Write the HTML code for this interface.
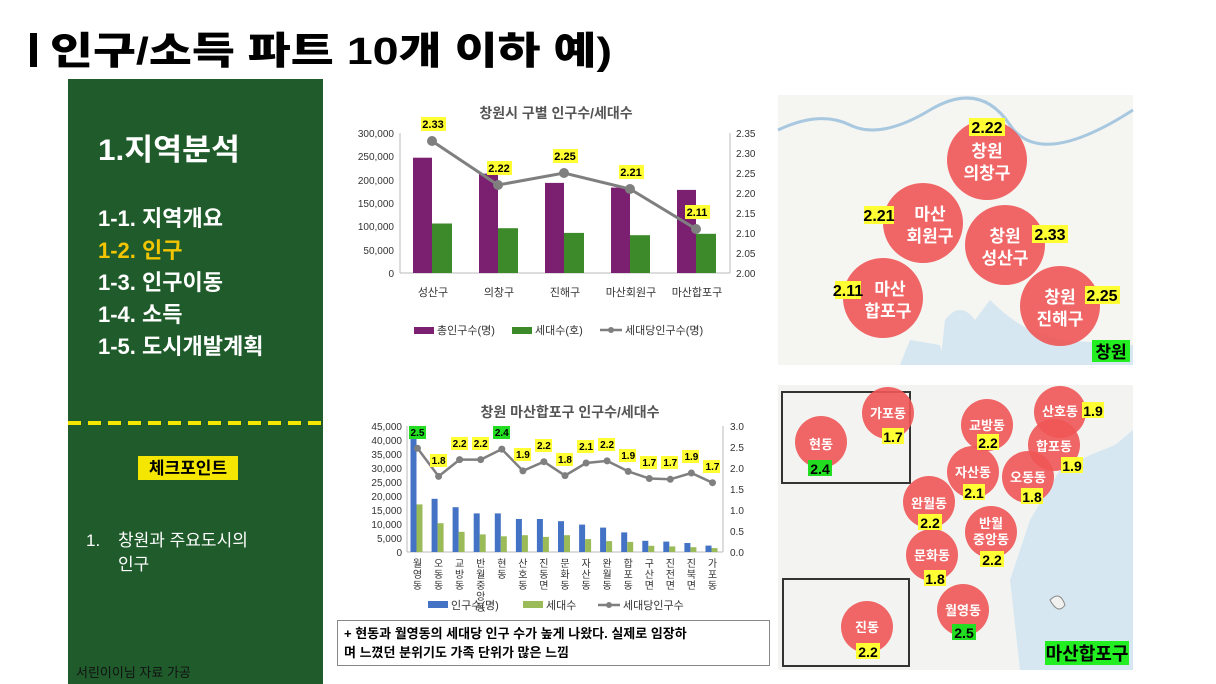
<!DOCTYPE html>
<html><head><meta charset="utf-8"><style>
body{margin:0;width:1216px;height:684px;overflow:hidden;background:#fff;font-family:"Liberation Sans","Noto Sans CJK KR",sans-serif;}
svg{position:absolute;left:0;top:0}
text{font-family:"Liberation Sans","Noto Sans CJK KR",sans-serif}
</style></head><body>
<svg width="1216" height="684" viewBox="0 0 1216 684">
<!-- title -->
<rect x="30" y="33" width="7" height="34" fill="#000"/>
<text x="50" y="64" font-size="38" font-weight="900" fill="#000" textLength="562" lengthAdjust="spacingAndGlyphs">인구/소득 파트  10개 이하 예)</text>
<!-- left panel -->
<rect x="68" y="79" width="255" height="605" fill="#1f5b2b"/>
<text x="98" y="160" font-size="30" font-weight="bold" fill="#fff" textLength="142" lengthAdjust="spacingAndGlyphs">1.지역분석</text>
<g font-size="22" font-weight="bold" fill="#fff">
<text x="98" y="226">1-1. 지역개요</text>
<text x="98" y="258" fill="#f2c500">1-2. 인구</text>
<text x="98" y="290">1-3. 인구이동</text>
<text x="98" y="322">1-4. 소득</text>
<text x="98" y="354">1-5. 도시개발계획</text>
</g>
<line x1="68" y1="423" x2="323" y2="423" stroke="#f5e600" stroke-width="4" stroke-dasharray="13,7"/>
<rect x="138" y="456" width="100" height="24" fill="#f5e600"/>
<text x="188" y="474" font-size="17" font-weight="bold" fill="#000" text-anchor="middle">체크포인트</text>
<text x="86" y="546" font-size="17" fill="#fff">1.</text>
<text x="118" y="546" font-size="17" fill="#fff">창원과 주요도시의</text>
<text x="118" y="570" font-size="17" fill="#fff">인구</text>
<text x="76" y="677" font-size="13" fill="#111">서린이이님 자료 가공</text>

<!-- top chart -->
<text x="556" y="118" font-size="14" font-weight="bold" fill="#555" text-anchor="middle">창원시 구별  인구수/세대수</text>
<g font-size="10" fill="#333" text-anchor="end">
<text x="394" y="137">300,000</text><text x="394" y="160">250,000</text><text x="394" y="184">200,000</text><text x="394" y="207">150,000</text><text x="394" y="230">100,000</text><text x="394" y="254">50,000</text><text x="394" y="277">0</text>
</g>
<g font-size="10" fill="#333">
<text x="736" y="137">2.35</text><text x="736" y="157">2.30</text><text x="736" y="177">2.25</text><text x="736" y="197">2.20</text><text x="736" y="217">2.15</text><text x="736" y="237">2.10</text><text x="736" y="257">2.05</text><text x="736" y="277">2.00</text>
</g>
<line x1="400" y1="133" x2="400" y2="273" stroke="#bbb"/>
<line x1="730" y1="133" x2="730" y2="273" stroke="#bbb"/>
<line x1="400" y1="273" x2="730" y2="273" stroke="#bbb"/>
<g fill="#7b2070">
<rect x="413" y="157.7" width="19" height="115.3"/><rect x="479" y="173.6" width="19" height="99.4"/><rect x="545" y="182.9" width="19" height="90.1"/><rect x="611" y="187.6" width="19" height="85.4"/><rect x="677" y="189.9" width="19" height="83.1"/>
</g>
<g fill="#3d8a2a">
<rect x="432" y="223.5" width="20" height="49.5"/><rect x="498" y="228.2" width="20" height="44.8"/><rect x="564" y="232.9" width="20" height="40.1"/><rect x="630" y="235.2" width="20" height="37.8"/><rect x="696" y="233.8" width="20" height="39.2"/>
</g>
<polyline points="432,141 498,185 564,173 630,189 696,229" fill="none" stroke="#7f7f7f" stroke-width="3"/>
<g fill="#7f7f7f"><circle cx="432" cy="141" r="5"/><circle cx="498" cy="185" r="5"/><circle cx="564" cy="173" r="5"/><circle cx="630" cy="189" r="5"/><circle cx="696" cy="229" r="5"/></g>
<g fill="#ffff33"><rect x="421" y="117" width="25" height="14"/><rect x="487" y="161" width="25" height="14"/><rect x="553" y="149" width="25" height="14"/><rect x="619" y="165" width="25" height="14"/><rect x="685" y="205" width="25" height="14"/></g>
<g font-size="11" font-weight="bold" fill="#000" text-anchor="middle">
<text x="433" y="128">2.33</text><text x="499" y="172">2.22</text><text x="565" y="160">2.25</text><text x="631" y="176">2.21</text><text x="697" y="216">2.11</text>
</g>
<g font-size="11" fill="#333" text-anchor="middle">
<text x="433" y="296">성산구</text><text x="499" y="296">의창구</text><text x="565" y="296">진해구</text><text x="631" y="296">마산회원구</text><text x="697" y="296">마산합포구</text>
</g>
<rect x="414" y="327" width="20" height="7" fill="#7b2070"/><text x="437" y="334" font-size="11" fill="#333">총인구수(명)</text>
<rect x="512" y="327" width="20" height="7" fill="#3d8a2a"/><text x="535" y="334" font-size="11" fill="#333">세대수(호)</text>
<line x1="600" y1="330" x2="622" y2="330" stroke="#7f7f7f" stroke-width="2.5"/><circle cx="611" cy="330" r="3" fill="#7f7f7f"/><text x="625" y="334" font-size="11" fill="#333">세대당인구수(명)</text>

<!-- bottom chart -->
<text x="570" y="417" font-size="14" font-weight="bold" fill="#555" text-anchor="middle">창원 마산합포구 인구수/세대수</text>
<g font-size="10" fill="#333" text-anchor="end">
<text x="402" y="430">45,000</text><text x="402" y="444">40,000</text><text x="402" y="458">35,000</text><text x="402" y="472">30,000</text><text x="402" y="486">25,000</text><text x="402" y="500">20,000</text><text x="402" y="514">15,000</text><text x="402" y="528">10,000</text><text x="402" y="542">5,000</text><text x="402" y="556">0</text>
</g>
<g font-size="10" fill="#333">
<text x="730" y="430">3.0</text><text x="730" y="451">2.5</text><text x="730" y="472">2.0</text><text x="730" y="493">1.5</text><text x="730" y="514">1.0</text><text x="730" y="535">0.5</text><text x="730" y="556">0.0</text>
</g>
<line x1="407" y1="426" x2="407" y2="552" stroke="#bbb"/>
<line x1="723" y1="426" x2="723" y2="552" stroke="#bbb"/>
<line x1="407" y1="552" x2="723" y2="552" stroke="#bbb"/>
<g fill="#4472c4">
<rect x="410.5" y="437.2" width="6" height="114.8"/><rect x="431.6" y="498.8" width="6" height="53.2"/><rect x="452.6" y="507.2" width="6" height="44.8"/><rect x="473.7" y="513.4" width="6" height="38.6"/><rect x="494.8" y="513.4" width="6" height="38.6"/><rect x="515.9" y="519" width="6" height="33"/><rect x="536.9" y="519" width="6" height="33"/><rect x="558" y="521.2" width="6" height="30.8"/><rect x="579.1" y="524.6" width="6" height="27.4"/><rect x="600.1" y="527.6" width="6" height="24.4"/><rect x="621.2" y="532.4" width="6" height="19.6"/><rect x="642.3" y="540.8" width="6" height="11.2"/><rect x="663.3" y="541.6" width="6" height="10.4"/><rect x="684.4" y="543" width="6" height="9"/><rect x="705.5" y="545.6" width="6" height="6.4"/>
</g>
<g fill="#9bbb59">
<rect x="416.5" y="504.4" width="6" height="47.6"/><rect x="437.6" y="523.2" width="6" height="28.8"/><rect x="458.6" y="531.8" width="6" height="20.2"/><rect x="479.7" y="534.4" width="6" height="17.6"/><rect x="500.8" y="536.3" width="6" height="15.7"/><rect x="521.9" y="535.2" width="6" height="16.8"/><rect x="542.9" y="536.9" width="6" height="15.1"/><rect x="564" y="535.2" width="6" height="16.8"/><rect x="585.1" y="539.1" width="6" height="12.9"/><rect x="606.1" y="541.1" width="6" height="10.9"/><rect x="627.2" y="541.9" width="6" height="10.1"/><rect x="648.3" y="545.8" width="6" height="6.2"/><rect x="669.3" y="546.4" width="6" height="5.6"/><rect x="690.4" y="547.2" width="6" height="4.8"/><rect x="711.5" y="548.1" width="6" height="3.9"/>
</g>
<polyline points="417.5,448.3 438.6,476.4 459.6,459.6 480.7,459.6 501.8,449.1 522.9,470.9 543.9,461.7 565,475.6 586.1,463 607.1,460.9 628.2,471.4 649.3,478.5 670.3,479.3 691.4,473 712.5,482.7" fill="none" stroke="#7f7f7f" stroke-width="2.5"/>
<g fill="#7f7f7f"><circle cx="417.5" cy="448.3" r="3.5"/><circle cx="438.6" cy="476.4" r="3.5"/><circle cx="459.6" cy="459.6" r="3.5"/><circle cx="480.7" cy="459.6" r="3.5"/><circle cx="501.8" cy="449.1" r="3.5"/><circle cx="522.9" cy="470.9" r="3.5"/><circle cx="543.9" cy="461.7" r="3.5"/><circle cx="565" cy="475.6" r="3.5"/><circle cx="586.1" cy="463" r="3.5"/><circle cx="607.1" cy="460.9" r="3.5"/><circle cx="628.2" cy="471.4" r="3.5"/><circle cx="649.3" cy="478.5" r="3.5"/><circle cx="670.3" cy="479.3" r="3.5"/><circle cx="691.4" cy="473" r="3.5"/><circle cx="712.5" cy="482.7" r="3.5"/></g>
<g>
<rect x="409" y="426" width="17" height="13" fill="#22dd22"/><rect x="430" y="454" width="17" height="13" fill="#ffff33"/><rect x="451" y="437" width="17" height="13" fill="#ffff33"/><rect x="472" y="437" width="17" height="13" fill="#ffff33"/><rect x="493" y="426" width="17" height="13" fill="#22dd22"/><rect x="514" y="448" width="17" height="13" fill="#ffff33"/><rect x="535" y="439" width="17" height="13" fill="#ffff33"/><rect x="556" y="453" width="17" height="13" fill="#ffff33"/><rect x="577" y="440" width="17" height="13" fill="#ffff33"/><rect x="598" y="438" width="17" height="13" fill="#ffff33"/><rect x="619" y="449" width="17" height="13" fill="#ffff33"/><rect x="640" y="456" width="17" height="13" fill="#ffff33"/><rect x="661" y="456" width="17" height="13" fill="#ffff33"/><rect x="682" y="450" width="17" height="13" fill="#ffff33"/><rect x="703" y="460" width="17" height="13" fill="#ffff33"/>
</g>
<g font-size="10" font-weight="bold" fill="#000" text-anchor="middle">
<text x="417.5" y="436">2.5</text><text x="438.6" y="464">1.8</text><text x="459.6" y="447">2.2</text><text x="480.7" y="447">2.2</text><text x="501.8" y="436">2.4</text><text x="522.9" y="458">1.9</text><text x="543.9" y="449">2.2</text><text x="565" y="463">1.8</text><text x="586.1" y="450">2.1</text><text x="607.1" y="448">2.2</text><text x="628.2" y="459">1.9</text><text x="649.3" y="466">1.7</text><text x="670.3" y="466">1.7</text><text x="691.4" y="460">1.9</text><text x="712.5" y="470">1.7</text>
</g>
<g font-size="10" fill="#333" text-anchor="middle">
<text x="417.5" y="567">월<tspan x="417.5" dy="11">영</tspan><tspan x="417.5" dy="11">동</tspan></text>
<text x="438.6" y="567">오<tspan x="438.6" dy="11">동</tspan><tspan x="438.6" dy="11">동</tspan></text>
<text x="459.6" y="567">교<tspan x="459.6" dy="11">방</tspan><tspan x="459.6" dy="11">동</tspan></text>
<text x="480.7" y="567">반<tspan x="480.7" dy="11">월</tspan><tspan x="480.7" dy="11">중</tspan><tspan x="480.7" dy="11">앙</tspan><tspan x="480.7" dy="11">동</tspan></text>
<text x="501.8" y="567">현<tspan x="501.8" dy="11">동</tspan></text>
<text x="522.9" y="567">산<tspan x="522.9" dy="11">호</tspan><tspan x="522.9" dy="11">동</tspan></text>
<text x="543.9" y="567">진<tspan x="543.9" dy="11">동</tspan><tspan x="543.9" dy="11">면</tspan></text>
<text x="565" y="567">문<tspan x="565" dy="11">화</tspan><tspan x="565" dy="11">동</tspan></text>
<text x="586.1" y="567">자<tspan x="586.1" dy="11">산</tspan><tspan x="586.1" dy="11">동</tspan></text>
<text x="607.1" y="567">완<tspan x="607.1" dy="11">월</tspan><tspan x="607.1" dy="11">동</tspan></text>
<text x="628.2" y="567">합<tspan x="628.2" dy="11">포</tspan><tspan x="628.2" dy="11">동</tspan></text>
<text x="649.3" y="567">구<tspan x="649.3" dy="11">산</tspan><tspan x="649.3" dy="11">면</tspan></text>
<text x="670.3" y="567">진<tspan x="670.3" dy="11">전</tspan><tspan x="670.3" dy="11">면</tspan></text>
<text x="691.4" y="567">진<tspan x="691.4" dy="11">북</tspan><tspan x="691.4" dy="11">면</tspan></text>
<text x="712.5" y="567">가<tspan x="712.5" dy="11">포</tspan><tspan x="712.5" dy="11">동</tspan></text>
</g>
<rect x="428" y="601" width="20" height="7" fill="#4472c4"/><text x="451" y="609" font-size="11" fill="#333">인구수(명)</text>
<rect x="523" y="601" width="20" height="7" fill="#9bbb59"/><text x="546" y="609" font-size="11" fill="#333">세대수</text>
<line x1="598" y1="605" x2="620" y2="605" stroke="#7f7f7f" stroke-width="2.5"/><circle cx="609" cy="605" r="3" fill="#7f7f7f"/><text x="623" y="609" font-size="11" fill="#333">세대당인구수</text>
<rect x="337.5" y="620.5" width="432" height="45" fill="#fff" stroke="#888"/>
<text x="344" y="638" font-size="13" font-weight="bold" fill="#000">+ 현동과 월영동의 세대당 인구 수가 높게 나왔다. 실제로 임장하</text>
<text x="344" y="657" font-size="13" font-weight="bold" fill="#000">며 느꼈던 분위기도 가족 단위가 많은 느낌</text>

<!-- top map -->
<rect x="778" y="95" width="355" height="270" fill="#f5f5f2"/>
<path d="M778 130 Q820 110 850 125 T930 110 T1010 125 T1133 110" fill="none" stroke="#a8c8e0" stroke-width="3"/>
<path d="M940 365 L945 320 Q960 300 975 320 L990 300 Q1010 320 1030 330 L1060 340 L1133 345 L1133 365 Z" fill="#d6e7f1"/>
<path d="M900 365 L910 340 L940 345 L945 365 Z" fill="#d6e7f1"/>
<g fill="#ef5555" fill-opacity="0.9">
<circle cx="987" cy="160" r="40"/><circle cx="923" cy="223" r="40"/><circle cx="1005" cy="245" r="40"/><circle cx="883" cy="298" r="40"/><circle cx="1060" cy="306" r="40"/>
</g>
<g font-size="17" font-weight="bold" fill="#fff" text-anchor="middle">
<text x="987" y="157">창원</text><text x="987" y="179">의창구</text>
<text x="930" y="220">마산</text><text x="930" y="242">회원구</text>
<text x="1005" y="242">창원</text><text x="1005" y="264">성산구</text>
<text x="890" y="295">마산</text><text x="888" y="317">합포구</text>
<text x="1060" y="303">창원</text><text x="1060" y="325">진해구</text>
</g>
<g fill="#ffff33"><rect x="969" y="118" width="36" height="18"/><rect x="864" y="206" width="30" height="18"/><rect x="1032" y="225" width="36" height="18"/><rect x="835" y="281" width="26" height="18"/><rect x="1085" y="286" width="35" height="18"/></g>
<g font-size="16" font-weight="bold" fill="#000" text-anchor="middle">
<text x="987" y="133">2.22</text><text x="879" y="221">2.21</text><text x="1050" y="240">2.33</text><text x="848" y="296">2.11</text><text x="1102" y="301">2.25</text>
</g>
<rect x="1092" y="340" width="38" height="22" fill="#22ee22"/>
<text x="1111" y="358" font-size="17" font-weight="bold" fill="#000" text-anchor="middle">창원</text>

<!-- bottom map -->
<rect x="778" y="385" width="355" height="285" fill="#f3f4f2"/>
<path d="M1020 670 L1010 580 L1030 520 L1060 470 L1090 455 L1115 445 L1133 430 L1133 670 Z" fill="#d6e7f1"/>
<path d="M1050 600 Q1060 590 1065 605 Q1058 615 1050 600Z" fill="#f1f2f0" stroke="#888"/>
<rect x="782" y="392" width="128" height="91" fill="none" stroke="#333" stroke-width="2"/>
<rect x="783" y="579" width="126" height="87" fill="none" stroke="#333" stroke-width="2"/>
<g fill="#ef5555" fill-opacity="0.9">
<circle cx="821" cy="442" r="26"/><circle cx="888" cy="413" r="26"/><circle cx="987" cy="425" r="26"/><circle cx="1060" cy="412" r="26"/><circle cx="1054" cy="445" r="26"/><circle cx="973" cy="472" r="26"/><circle cx="1028" cy="477" r="26"/><circle cx="929" cy="502" r="26"/><circle cx="991" cy="532" r="26"/><circle cx="932" cy="555" r="26"/><circle cx="963" cy="610" r="26"/><circle cx="867" cy="627" r="26"/>
</g>
<g font-size="13" font-weight="bold" fill="#fff" text-anchor="middle">
<text x="821" y="449">현동</text><text x="888" y="418">가포동</text><text x="987" y="430">교방동</text><text x="1060" y="416">산호동</text><text x="1054" y="451">합포동</text><text x="973" y="477">자산동</text><text x="1028" y="482">오동동</text><text x="929" y="508">완월동</text><text x="991" y="528">반월</text><text x="991" y="544">중앙동</text><text x="932" y="560">문화동</text><text x="963" y="615">월영동</text><text x="867" y="632">진동</text>
</g>
<g>
<rect x="808" y="460" width="24" height="16" fill="#22dd22"/><rect x="882" y="428" width="22" height="16" fill="#ffff33"/><rect x="977" y="434" width="22" height="16" fill="#ffff33"/><rect x="1082" y="402" width="22" height="16" fill="#ffff33"/><rect x="1061" y="457" width="22" height="16" fill="#ffff33"/><rect x="963" y="484" width="22" height="16" fill="#ffff33"/><rect x="1021" y="488" width="22" height="16" fill="#ffff33"/><rect x="918" y="514" width="24" height="16" fill="#ffff33"/><rect x="980" y="551" width="24" height="16" fill="#ffff33"/><rect x="924" y="570" width="22" height="16" fill="#ffff33"/><rect x="952" y="624" width="24" height="16" fill="#22dd22"/><rect x="856" y="643" width="24" height="16" fill="#ffff33"/>
</g>
<g font-size="14" font-weight="bold" fill="#000" text-anchor="middle">
<text x="820" y="474">2.4</text><text x="893" y="442">1.7</text><text x="988" y="448">2.2</text><text x="1093" y="416">1.9</text><text x="1072" y="471">1.9</text><text x="974" y="498">2.1</text><text x="1032" y="502">1.8</text><text x="930" y="528">2.2</text><text x="992" y="565">2.2</text><text x="935" y="584">1.8</text><text x="964" y="638">2.5</text><text x="868" y="657">2.2</text>
</g>
<rect x="1045" y="641" width="84" height="24" fill="#22ee22"/>
<text x="1087" y="660" font-size="18" font-weight="bold" fill="#000" text-anchor="middle">마산합포구</text>
</svg>
</body></html>
